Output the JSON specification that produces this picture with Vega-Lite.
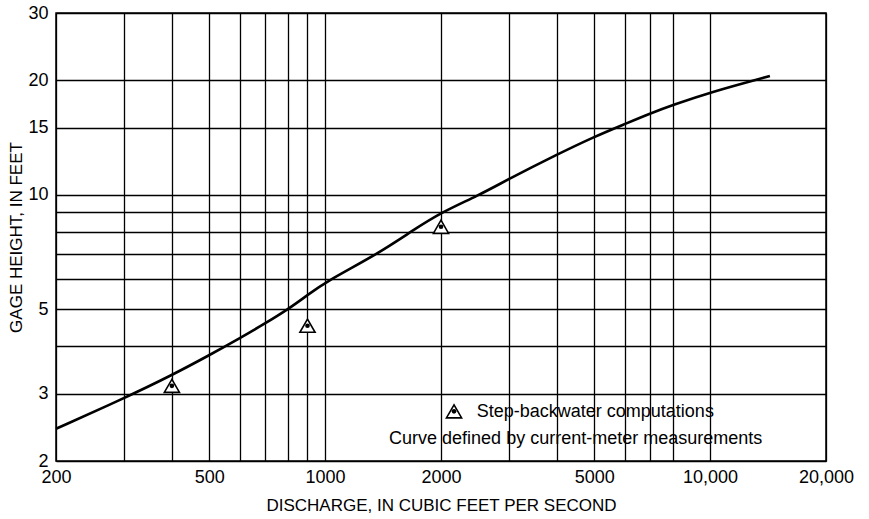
{
  "$schema": "https://vega.github.io/schema/vega-lite/v6.json",
  "width": 770,
  "height": 448,
  "autosize": {"type": "none"},
  "padding": {"left": 56, "top": 13, "right": 43, "bottom": 58},
  "background": "white",
  "config": {
    "view": {"stroke": "black", "strokeWidth": 1.5},
    "font": "Liberation Sans"
  },
  "datasets": {
    "curve": [
      {"q": 200, "h": 2.43},
      {"q": 300, "h": 2.92},
      {"q": 400, "h": 3.36},
      {"q": 500, "h": 3.79},
      {"q": 600, "h": 4.2},
      {"q": 700, "h": 4.6},
      {"q": 800, "h": 5.0},
      {"q": 900, "h": 5.45},
      {"q": 1000, "h": 5.9},
      {"q": 1372, "h": 7.0},
      {"q": 1692, "h": 8.07},
      {"q": 2000, "h": 8.98},
      {"q": 2500, "h": 9.95},
      {"q": 3000, "h": 11.0},
      {"q": 4000, "h": 12.75},
      {"q": 5000, "h": 14.2},
      {"q": 6000, "h": 15.33},
      {"q": 7000, "h": 16.36},
      {"q": 8000, "h": 17.2},
      {"q": 10000, "h": 18.58},
      {"q": 14300, "h": 20.5}
    ],
    "points": [
      {"q": 400, "h": 3.15},
      {"q": 900, "h": 4.53},
      {"q": 2000, "h": 8.24},
      {"q": 2162, "h": 2.7}
    ],
    "notes": [
      {"q": 2477, "h": 2.61, "label": "Step-backwater computations"},
      {"q": 1466, "h": 2.22, "label": "Curve defined by current-meter measurements"}
    ]
  },
  "layer": [
    {
      "data": {"name": "curve"},
      "mark": {"type": "line", "color": "black", "strokeWidth": 2.6, "interpolate": "basis"},
      "encoding": {
        "x": {
          "field": "q", "type": "quantitative",
          "scale": {"type": "log", "domain": [200, 20000], "nice": false},
          "axis": {
            "title": "DISCHARGE, IN CUBIC FEET PER SECOND",
            "values": [200, 300, 400, 500, 600, 700, 800, 900, 1000, 2000, 3000, 4000, 5000, 6000, 7000, 8000, 10000, 20000],
            "labelExpr": "indexof([200,500,1000,2000,5000,10000,20000], datum.value) >= 0 ? (datum.value >= 10000 ? format(datum.value, ',') : format(datum.value, 'd')) : ''",
            "grid": true, "gridColor": "black", "gridWidth": 1.3, "gridOpacity": 1,
            "ticks": false, "domain": false,
            "labelFontSize": 18, "labelColor": "black", "labelPadding": 7,
            "labelFlush": false, "labelOverlap": false,
            "titleFontSize": 17, "titleFontWeight": "normal", "titleColor": "black", "titlePadding": 11
          }
        },
        "y": {
          "field": "h", "type": "quantitative",
          "scale": {"type": "log", "domain": [2, 30], "nice": false},
          "axis": {
            "title": "GAGE HEIGHT, IN FEET",
            "values": [2, 3, 4, 5, 6, 7, 8, 9, 10, 15, 20, 30],
            "labelExpr": "indexof([2,3,5,10,15,20,30], datum.value) >= 0 ? format(datum.value, 'd') : ''",
            "grid": true, "gridColor": "black", "gridWidth": 1.3, "gridOpacity": 1,
            "ticks": false, "domain": false,
            "labelFontSize": 18, "labelColor": "black", "labelPadding": 8,
            "labelFlush": false, "labelOverlap": false,
            "titleFontSize": 17, "titleFontWeight": "normal", "titleColor": "black", "titlePadding": 2
          }
        }
      }
    },
    {
      "data": {"name": "points"},
      "mark": {"type": "point", "shape": "triangle-up", "filled": true, "fill": "white", "stroke": "black", "strokeWidth": 1.6, "size": 230, "opacity": 1},
      "encoding": {
        "x": {"field": "q", "type": "quantitative"},
        "y": {"field": "h", "type": "quantitative"}
      }
    },
    {
      "data": {"name": "points"},
      "mark": {"type": "circle", "color": "black", "size": 22, "opacity": 1},
      "encoding": {
        "x": {"field": "q", "type": "quantitative"},
        "y": {"field": "h", "type": "quantitative"}
      }
    },
    {
      "data": {"name": "notes"},
      "mark": {"type": "text", "align": "left", "baseline": "alphabetic", "fontSize": 18, "color": "black", "font": "Liberation Sans"},
      "encoding": {
        "x": {"field": "q", "type": "quantitative"},
        "y": {"field": "h", "type": "quantitative"},
        "text": {"field": "label"}
      }
    }
  ]
}
